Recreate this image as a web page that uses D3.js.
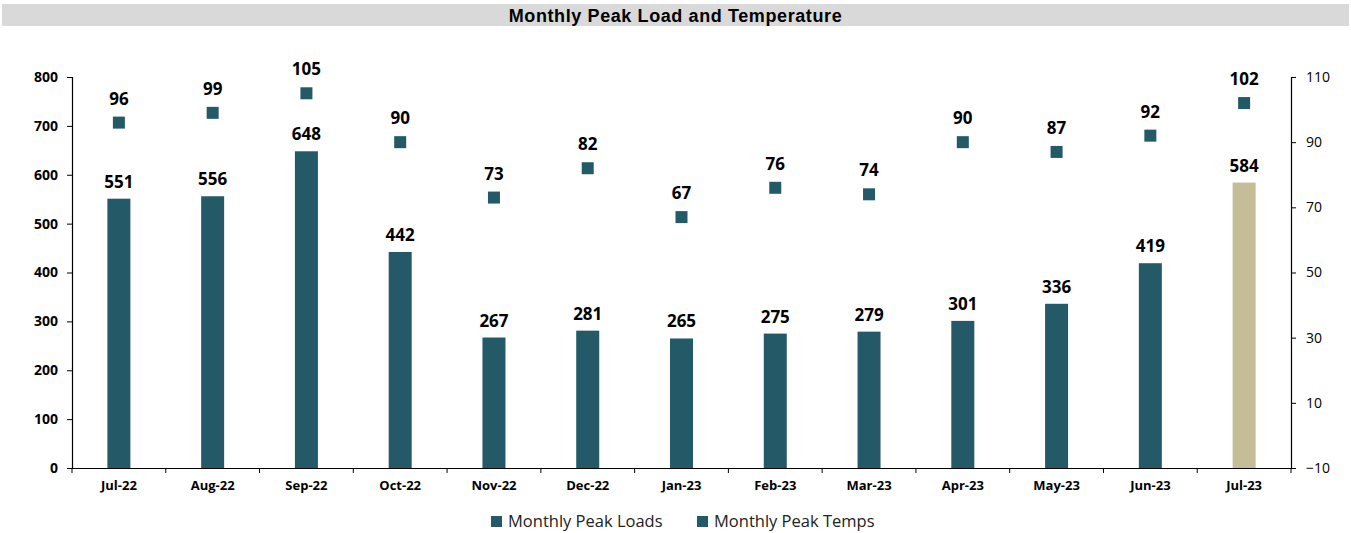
<!DOCTYPE html>
<html>
<head>
<meta charset="utf-8">
<title>Monthly Peak Load and Temperature</title>
<script src="https://cdnjs.cloudflare.com/ajax/libs/d3/7.8.5/d3.min.js"></script>
<style>
  body { margin: 0; background: #fff; }
  svg text { font-family: 'Open Sans', 'Noto Sans', sans-serif; }
</style>
</head>
<body>
<div id="chart"></div>
<script>
const months = ['Jul-22','Aug-22','Sep-22','Oct-22','Nov-22','Dec-22','Jan-23','Feb-23','Mar-23','Apr-23','May-23','Jun-23','Jul-23']
const peakLoads = [551, 556, 648, 442, 267, 281, 265, 275, 279, 301, 336, 419, 584]
const peakTemps = [96, 99, 105, 90, 73, 82, 67, 76, 74, 90, 87, 92, 102]
const loadTicks = [0, 100, 200, 300, 400, 500, 600, 700, 800]
const tempTicks = [-10, 10, 30, 50, 70, 90, 110]
const seriesNames = ['Monthly Peak Loads', 'Monthly Peak Temps']

const w = 1351, h = 533
const m = { top: 77, right: 60, bottom: 65, left: 72 }
const teal = '#245a68'
const sand = '#c4bd97'

const svg = d3.select('#chart').append('svg')
    .attr('width', w)
    .attr('height', h)

// title band
svg.append('rect')
    .attr('x', 2).attr('y', 4)
    .attr('width', w - 4).attr('height', 22)
    .attr('fill', '#d9d9d9')
svg.append('text')
    .attr('x', w / 2).attr('y', 21.5)
    .attr('text-anchor', 'middle')
    .style('font-family', "'Liberation Sans', Arial, sans-serif")
    .style('font-weight', 'bold')
    .style('font-size', '18px')
    .style('letter-spacing', '0.6px')
    .text('Monthly Peak Load and Temperature')

const x = d3.scaleBand()
    .domain(months)
    .range([m.left, w - m.right])

const yL = d3.scaleLinear().domain([0, 800]).range([h - m.bottom, m.top])
const yR = d3.scaleLinear().domain([-10, 110]).range([h - m.bottom, m.top])

// bars
const barW = 23
svg.selectAll('rect.bar')
    .data(peakLoads)
    .enter()
    .append('rect')
    .attr('class', 'bar')
    .attr('x', (d, i) => x(months[i]) + x.bandwidth() / 2 - barW / 2)
    .attr('y', d => yL(d))
    .attr('width', barW)
    .attr('height', d => yL(0) - yL(d))
    .attr('fill', (d, i) => i === months.length - 1 ? sand : teal)

svg.selectAll('text.barlab')
    .data(peakLoads)
    .enter()
    .append('text')
    .attr('class', 'barlab')
    .attr('x', (d, i) => x(months[i]) + x.bandwidth() / 2)
    .attr('y', d => yL(d) - 11)
    .attr('text-anchor', 'middle')
    .style('font-weight', 'bold')
    .style('font-size', '17px')
    .text(d => d)

// temp markers
const mk = 12
svg.selectAll('rect.temp')
    .data(peakTemps)
    .enter()
    .append('rect')
    .attr('class', 'temp')
    .attr('x', (d, i) => x(months[i]) + x.bandwidth() / 2 - mk / 2)
    .attr('y', d => yR(d) - mk / 2)
    .attr('width', mk)
    .attr('height', mk)
    .attr('fill', teal)

svg.selectAll('text.templab')
    .data(peakTemps)
    .enter()
    .append('text')
    .attr('class', 'templab')
    .attr('x', (d, i) => x(months[i]) + x.bandwidth() / 2)
    .attr('y', d => yR(d) - 18)
    .attr('text-anchor', 'middle')
    .style('font-weight', 'bold')
    .style('font-size', '17px')
    .text(d => d)

// axes
const leftAxis = svg.append('g')
    .attr('transform', `translate(${m.left},0)`)
    .call(d3.axisLeft(yL).tickValues(loadTicks).tickSize(5).tickPadding(9))
leftAxis.selectAll('text')
    .style('font-weight', 'bold')
    .style('font-size', '14px')
    .attr('fill', '#000')

const rightAxis = svg.append('g')
    .attr('transform', `translate(${w - m.right},0)`)
    .call(d3.axisRight(yR).tickValues(tempTicks).tickSize(5).tickPadding(10))
rightAxis.selectAll('text')
    .style('font-size', '14px')
    .attr('fill', '#000')

const bottomAxis = svg.append('g')
    .attr('transform', `translate(0,${h - m.bottom})`)
    .call(d3.axisBottom(x).tickSize(0).tickPadding(13))
bottomAxis.selectAll('text')
    .style('font-weight', 'bold')
    .style('font-size', '13px')
    .attr('fill', '#000')
bottomAxis.selectAll('.cat-tick')
    .data(months.concat(['end']))
    .enter()
    .append('line')
    .attr('x1', (d, i) => m.left + i * x.step())
    .attr('x2', (d, i) => m.left + i * x.step())
    .attr('y1', 0).attr('y2', 5)
    .attr('stroke', '#000')

svg.selectAll('.domain').attr('stroke', '#000').attr('stroke-width', 1.2)
svg.selectAll('.tick line').attr('stroke', '#000')

// legend
const legend = svg.append('g').attr('id', 'legend')
const legX = [491, 697]
legend.selectAll('rect')
    .data(seriesNames)
    .enter()
    .append('rect')
    .attr('x', (d, i) => legX[i])
    .attr('y', 516)
    .attr('width', 11)
    .attr('height', 11)
    .attr('fill', teal)
legend.selectAll('text')
    .data(seriesNames)
    .enter()
    .append('text')
    .attr('x', (d, i) => legX[i] + 17)
    .attr('y', 527)
    .style('font-size', '16.5px')
    .attr('fill', '#222')
    .text(d => d)
</script>
</body>
</html>
